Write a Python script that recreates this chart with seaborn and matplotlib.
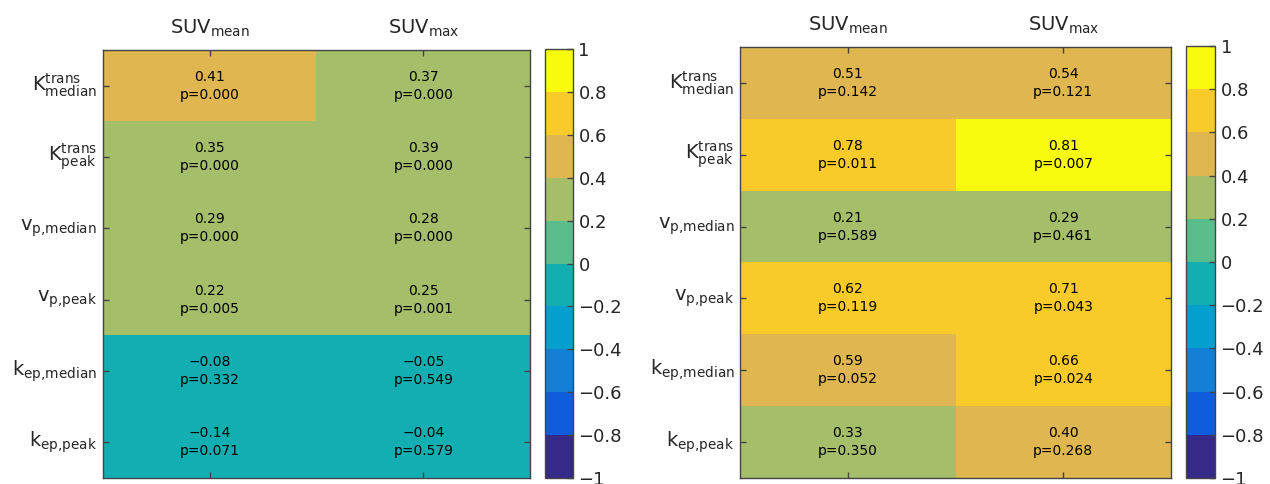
import numpy as np
import pandas as pd
import seaborn as sns
import matplotlib
matplotlib.use("Agg")
import matplotlib.pyplot as plt
from matplotlib.colors import ListedColormap, BoundaryNorm
from matplotlib.ticker import FuncFormatter

# row / column labels
rows = [r"$\mathregular{K^{trans}_{median}}$", r"$\mathregular{K^{trans}_{peak}}$",
        r"$\mathregular{v_{p{,}median}}$", r"$\mathregular{v_{p{,}peak}}$",
        r"$\mathregular{k_{ep{,}median}}$", r"$\mathregular{k_{ep{,}peak}}$"]
cols = [r"$\mathregular{SUV_{mean}}$", r"$\mathregular{SUV_{max}}$"]

# left panel
left_r = [[0.41, 0.37], [0.35, 0.39], [0.29, 0.28], [0.22, 0.25], [-0.08, -0.05], [-0.14, -0.04]]
left_p = [[0.000, 0.000], [0.000, 0.000], [0.000, 0.000], [0.005, 0.001], [0.332, 0.549], [0.071, 0.579]]

# right panel
right_r = [[0.51, 0.54], [0.78, 0.81], [0.21, 0.29], [0.62, 0.71], [0.59, 0.66], [0.33, 0.40]]
right_p = [[0.142, 0.121], [0.011, 0.007], [0.589, 0.461], [0.119, 0.043], [0.052, 0.024], [0.350, 0.268]]

# 10 level parula-like map
parula10 = ["#352A87", "#0F5CDD", "#1480D5", "#06A0CF", "#13AEB2",
            "#59BD8C", "#A5BE6A", "#DFB650", "#F9CB2A", "#F9FB0E"]
bounds = np.round(np.linspace(-1, 1, 11), 1)
cmap = ListedColormap(parula10)
norm = BoundaryNorm(bounds, cmap.N)

sns.set_style("white")
plt.rcParams["font.family"] = ["DejaVu Sans"]
txt_col = "#262626"


def fmt_num(v):
    return ("%.2f" % v).replace("-", "\u2212")


def panel(fig, ax_rect, cb_rect, r, p):
    ax = fig.add_axes(ax_rect)
    cax = fig.add_axes(cb_rect)
    df = pd.DataFrame(r, index=rows, columns=cols)
    labels = np.array([[fmt_num(r[i][j]) + "\np=%.3f" % p[i][j] for j in range(2)]
                       for i in range(len(rows))])
    sns.heatmap(df, ax=ax, cbar_ax=cax, cmap=cmap, norm=norm, annot=labels, fmt="",
                annot_kws={"color": "black", "fontsize": 10, "linespacing": 1.35})
    ax.set_axisbelow(False)
    for s in ax.spines.values():
        s.set_visible(True)
        s.set_color("#444444")
        s.set_linewidth(1)
    ax.tick_params(direction="in", length=4, width=1, top=True, right=True, bottom=True, left=True,
                   labeltop=True, labelbottom=False, color="#444444", pad=8)
    ax.set_xticklabels(cols, rotation=0, fontsize=14, color=txt_col)
    ax.set_yticklabels(rows, rotation=0, fontsize=14, color=txt_col)
    ax.tick_params(axis="y", pad=4)
    ax.set_xlabel("")
    ax.set_ylabel("")

    cb = ax.collections[0].colorbar
    cb.outline.set_linewidth(1)
    cb.outline.set_edgecolor("#444444")
    cb.set_ticks(bounds)
    cb.ax.yaxis.set_major_formatter(FuncFormatter(lambda v, pos: ("%g" % round(v, 1)).replace("-", "\u2212")))
    cax.set_axisbelow(False)
    cax.tick_params(direction="in", length=4, width=1, right=True, left=False, labelsize=13,
                    labelcolor=txt_col, color="#444444", pad=4)
    return ax


fig = plt.figure(figsize=(12.7, 4.84), dpi=100)
panel(fig, [0.0809, 0.0124, 0.3365, 0.884], [0.4291, 0.0124, 0.022, 0.886], left_r, left_p)
panel(fig, [0.5827, 0.0124, 0.3394, 0.8905], [0.9339, 0.0124, 0.0228, 0.8925], right_r, right_p)

fig.savefig("out.png", dpi=100, facecolor="white")
